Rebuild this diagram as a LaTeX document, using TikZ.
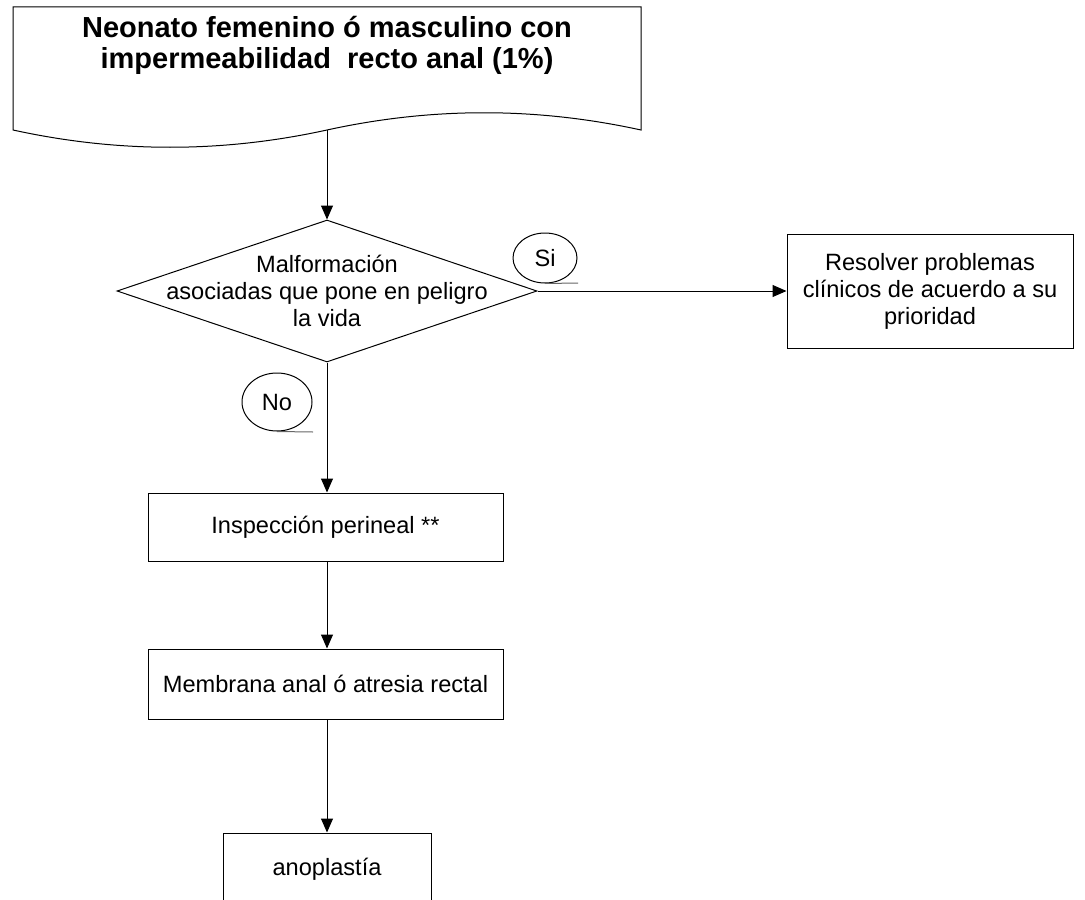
\documentclass[tikz,border=0pt]{standalone}
\usepackage{fontspec}
\setmainfont{Liberation Sans}
\usetikzlibrary{arrows.meta,shapes.geometric}

\begin{document}
\begin{tikzpicture}[x=0.5pt,y=-0.5pt,line width=0.5pt,
	box/.style={shape=rectangle,draw=black,align=center,inner sep=0pt,
		font=\fontsize{11.8}{13.5}\selectfont},
	answer/.style={shape=ellipse,draw=black,inner sep=0pt,
		font=\fontsize{11.8}{13.5}\selectfont},
	tail/.style={draw=black!60},
	flow/.style={-{Triangle[width=6pt,length=7pt]}}]
	\useasboundingbox (0,0) rectangle (1085,899);

	% documento de entrada
	\draw (13,7) -- (641,7) -- (641,130)
		.. controls (536,107) and (432,107) .. (327,130)
		.. controls (222,153) and (118,153) .. (13,130) -- cycle;
	\coordinate (docbot) at (327,130);
	\node[align=center,font=\bfseries\fontsize{14.5}{15.5}\selectfont] (title) at (327,45)
		{Neonato femenino ó masculino con\\impermeabilidad\ \ recto anal (1\%)};

	% decision
	\node[shape=diamond,draw=black,inner sep=0pt,minimum width=210pt,minimum height=71pt] (dec) at (327,291) {};
	\node[align=center,font=\fontsize{11.8}{13.5}\selectfont] (dectext) at (dec.center)
		{Malformación\\asociadas que pone en peligro\\la vida};

	\node[box,minimum width=143pt,minimum height=57pt] (resolver) at (930,291)
		{Resolver problemas\\clínicos de acuerdo a su\\prioridad};
	\node[box,minimum width=177.5pt,minimum height=34pt] (insp) at (325.5,527) {Inspección perineal **};
	\node[box,minimum width=177.5pt,minimum height=35pt] (memb) at (325.5,684) {Membrana anal ó atresia rectal};
	\node[box,minimum width=104pt,minimum height=36pt] (anop) at (327,869) {anoplastía};

	% si / no
	\node[answer,minimum width=32pt,minimum height=25pt] (si) at (545,258) {Si};
	\coordinate (sitail) at (578,283);
	\node[answer,minimum width=35pt,minimum height=29pt] (no) at (277,402) {No};
	\coordinate (notail) at (313,432);
	\draw[tail] (si.south) -- (sitail);
	\draw[tail] (no.south) -- (notail);

	\draw[flow] (docbot) -- (dec.north);
	\draw[flow] (dec.east) -- (resolver.west);
	\draw[flow] (dec.south) -- (dec.south |- insp.north);
	\draw[flow] (insp.south -| dec.south) -- (dec.south |- memb.north);
	\draw[flow] (memb.south -| dec.south) -- (anop.north);
\end{tikzpicture}
\end{document}
